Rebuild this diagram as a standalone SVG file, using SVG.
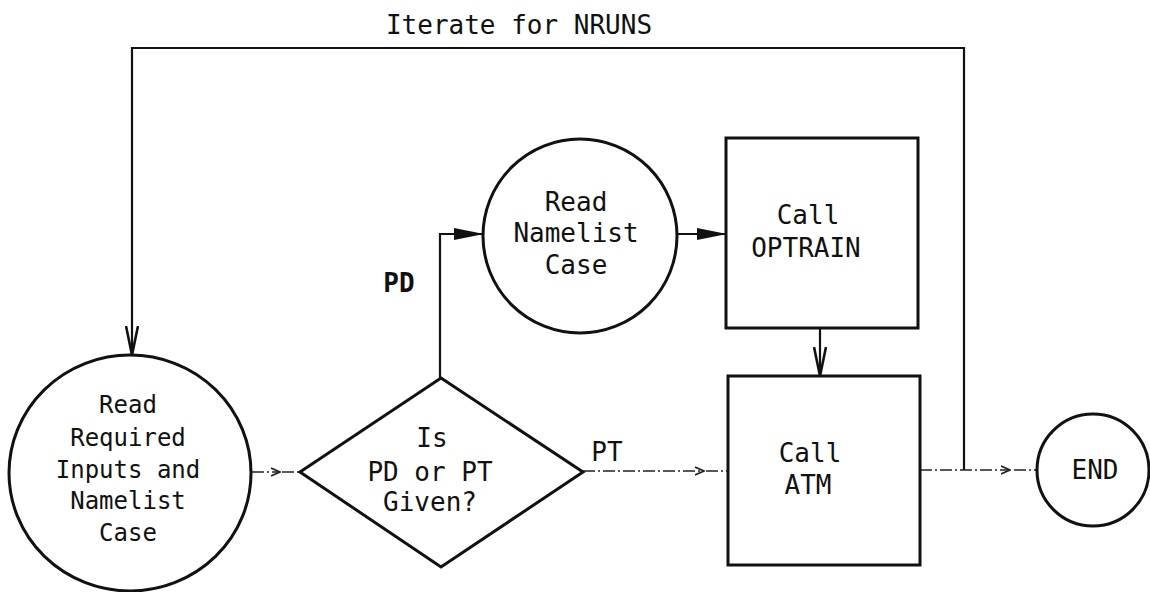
<svg xmlns="http://www.w3.org/2000/svg" width="1150" height="592" viewBox="0 0 1150 592">
  <defs>
    <style>
      .shape { fill: none; stroke: #111; stroke-width: 3; }
      .wire { fill: none; stroke: #111; stroke-width: 2.2; }
      .faint { fill: none; stroke: #222; stroke-width: 1.6; stroke-dasharray: 12 3 2 3; }
      .lbl { font-family: "DejaVu Sans Mono", "Liberation Mono", monospace; font-size: 26px; fill: #111; text-anchor: middle; }
      .small { font-size: 24px; }
      .bold { font-weight: bold; }
    </style>
    <!-- solid filled triangle head -->
    <marker id="solidHead" viewBox="0 0 30 14" refX="29" refY="7" markerWidth="30" markerHeight="14" markerUnits="userSpaceOnUse" orient="auto">
      <path d="M0,1 L30,7 L0,13 Z" fill="#111"/>
    </marker>
    <!-- narrow open V head -->
    <marker id="vHead" viewBox="0 0 30 14" refX="29" refY="7" markerWidth="30" markerHeight="14" markerUnits="userSpaceOnUse" orient="auto">
      <path d="M0,1 L29,7 L0,13" fill="none" stroke="#111" stroke-width="2.6"/>
    </marker>
    <!-- small tick head for the light connectors -->
    <marker id="tickHead" viewBox="0 0 10 10" refX="9" refY="5" markerWidth="10" markerHeight="10" markerUnits="userSpaceOnUse" orient="auto">
      <path d="M0,1 L9,5 L0,9" fill="none" stroke="#222" stroke-width="1.6"/>
    </marker>
  </defs>

  <rect width="1150" height="592" fill="#fff"/>

  <!-- connectors -->
  <g id="connectors">
    <!-- iteration loop: from the ATM exit back to the input reader -->
    <path class="wire" d="M964,470 L964,48 L132,48 L132,355" marker-end="url(#vHead)"/>
    <!-- inputs -> decision -->
    <path class="faint" d="M252,472 L280,472" marker-end="url(#tickHead)"/>
    <path class="faint" d="M282,472 L300,472"/>
    <!-- PD branch -> read namelist case -->
    <path class="wire" d="M440,378 L440,234 L483,234" marker-end="url(#solidHead)"/>
    <!-- read namelist case -> OPTRAIN -->
    <path class="wire" d="M678,234 L726,234" marker-end="url(#solidHead)"/>
    <!-- OPTRAIN -> ATM -->
    <path class="wire" d="M820,328 L820,376" marker-end="url(#vHead)"/>
    <!-- PT branch -> ATM -->
    <path class="faint" d="M583,471 L704,471" marker-end="url(#tickHead)"/>
    <path class="faint" d="M706,471 L728,471"/>
    <!-- ATM -> END -->
    <path class="faint" d="M920,470 L1010,470" marker-end="url(#tickHead)"/>
    <path class="faint" d="M1014,470 L1037,470"/>
  </g>

  <text class="lbl" x="519" y="34">Iterate for NRUNS</text>
  <text class="lbl bold" x="399" y="292">PD</text>
  <text class="lbl" x="607" y="461">PT</text>

  <g id="read-inputs">
    <ellipse class="shape" cx="130" cy="473" rx="121" ry="118"/>
    <text class="lbl small" x="128" y="413">Read</text>
    <text class="lbl small" x="128" y="446">Required</text>
    <text class="lbl small" x="128" y="478">Inputs and</text>
    <text class="lbl small" x="128" y="509">Namelist</text>
    <text class="lbl small" x="128" y="541">Case</text>
  </g>

  <g id="decision">
    <path class="shape" d="M441,378 L583,472 L441,567 L300,472 Z"/>
    <text class="lbl" x="432" y="447">Is</text>
    <text class="lbl" x="430" y="481">PD or PT</text>
    <text class="lbl" x="430" y="511">Given?</text>
  </g>

  <g id="read-namelist">
    <circle class="shape" cx="580" cy="236" r="97"/>
    <text class="lbl" x="576" y="211">Read</text>
    <text class="lbl" x="576" y="242">Namelist</text>
    <text class="lbl" x="576" y="274">Case</text>
  </g>

  <g id="optrain">
    <rect class="shape" x="726" y="138" width="192" height="190"/>
    <text class="lbl" x="808" y="224">Call</text>
    <text class="lbl" x="806" y="257">OPTRAIN</text>
  </g>

  <g id="atm">
    <rect class="shape" x="728" y="376" width="192" height="189"/>
    <text class="lbl" x="810" y="462">Call</text>
    <text class="lbl" x="808" y="494">ATM</text>
  </g>

  <g id="end">
    <circle class="shape" cx="1093" cy="470" r="56"/>
    <text class="lbl" x="1095" y="479">END</text>
  </g>
</svg>
